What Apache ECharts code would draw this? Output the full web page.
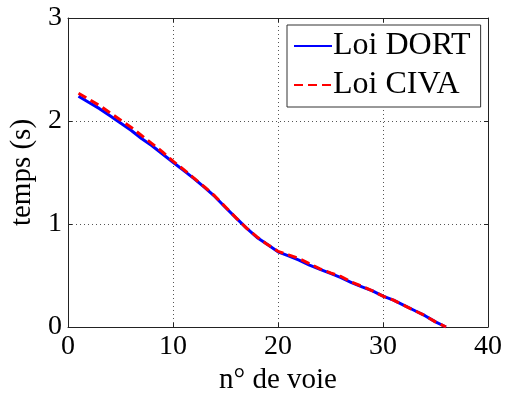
<!DOCTYPE html>
<html>
<head>
<meta charset="utf-8">
<script src="https://cdn.jsdelivr.net/npm/echarts@6/dist/echarts.min.js"></script>
<style>
  html, body { margin: 0; padding: 0; background: #fff; }
  #chart { width: 507px; height: 394px; }
</style>
</head>
<body>
<div id="chart"></div>
<script>
// Channel numbers (n° de voie)
const voies = [1,2,3,4,5,6,7,8,9,10,11,12,13,14,15,16,17,18,19,20,21,22,23,24,25,26,27,28,29,30,31,32,33,34,35,36];
// Delay law from DORT, seconds
const loiDort = [2.24,2.18,2.12,2.05,1.98,1.91,1.83,1.76,1.68,1.60,1.52,1.44,1.355,1.265,1.16,1.06,0.96,0.87,0.80,0.73,0.69,0.65,0.60,0.56,0.52,0.48,0.43,0.39,0.35,0.30,0.26,0.21,0.16,0.11,0.05,0.00];
// Delay law from CIVA, seconds
const loiCiva = [2.27,2.21,2.15,2.08,2.01,1.94,1.86,1.78,1.70,1.61,1.53,1.445,1.36,1.27,1.165,1.06,0.96,0.875,0.80,0.735,0.70,0.665,0.615,0.565,0.525,0.49,0.435,0.395,0.35,0.30,0.26,0.21,0.16,0.11,0.05,0.00];
const xTicks = [0, 10, 20, 30, 40];
const yTicks = [0, 1, 2, 3];

const font = 'Times New Roman';
const pairs = (xs, ys) => xs.map((x, i) => [x, ys[i]]);

const xRange = { type: 'value', min: xTicks[0], max: xTicks[xTicks.length - 1], interval: 10 };
const yRange = { type: 'value', min: yTicks[0], max: yTicks[yTicks.length - 1], interval: 1 };
const axisLine = { show: true, onZero: false, lineStyle: { color: '#222', width: 1 } };
const axisTick = { show: true, inside: true, length: 4, lineStyle: { color: '#222' } };
const gridLine = { show: true, lineStyle: { color: '#555', type: [1, 3], width: 1 } };

const chart = echarts.init(document.getElementById('chart'), null, { renderer: 'canvas' });
chart.setOption({
  animation: false,
  backgroundColor: '#fff',
  grid: {
    left: 68, right: 19, top: 18, bottom: 67,
    containLabel: false, outerBoundsMode: 'none',
    show: false
  },
  xAxis: [
    {
      ...xRange, position: 'bottom',
      name: 'n° de voie', nameLocation: 'middle', nameGap: 36,
      nameTextStyle: { fontFamily: font, fontSize: 29, color: '#000' },
      axisLine, axisTick,
      axisLabel: { fontFamily: font, fontSize: 28, color: '#000', margin: 6 },
      splitLine: gridLine
    },
    // box edge along the top with inward ticks
    { ...xRange, position: 'top', axisLine, axisTick, axisLabel: { show: false }, splitLine: { show: false } }
  ],
  yAxis: [
    {
      ...yRange, position: 'left',
      name: 'temps (s)', nameLocation: 'middle', nameGap: 31,
      nameTextStyle: { fontFamily: font, fontSize: 29, color: '#000' },
      axisLine, axisTick,
      axisLabel: { fontFamily: font, fontSize: 28, color: '#000', margin: 6 },
      splitLine: gridLine
    },
    // box edge along the right with inward ticks
    { ...yRange, position: 'right', axisLine, axisTick, axisLabel: { show: false }, splitLine: { show: false } }
  ],
  legend: {
    orient: 'vertical', left: 287, top: 25,
    itemWidth: 38, itemHeight: 14, itemGap: 7,
    padding: [5, 10, 6, 6],
    borderColor: '#333', borderWidth: 1, backgroundColor: '#fff',
    itemStyle: { opacity: 0 },
    textStyle: { fontFamily: font, fontSize: 32, color: '#000', padding: [0, 0, 0, -4] },
    data: ['Loi DORT', 'Loi CIVA']
  },
  series: [
    {
      name: 'Loi DORT', type: 'line', data: pairs(voies, loiDort),
      xAxisIndex: 0, yAxisIndex: 0,
      symbol: 'none', smooth: false,
      lineStyle: { color: '#0000ff', width: 3 }, itemStyle: { color: '#0000ff' }
    },
    {
      name: 'Loi CIVA', type: 'line', data: pairs(voies, loiCiva),
      xAxisIndex: 0, yAxisIndex: 0,
      symbol: 'none', smooth: false,
      lineStyle: { color: '#ff0000', width: 3, type: [9, 5] }, itemStyle: { color: '#ff0000' }
    }
  ]
});
</script>
</body>
</html>
